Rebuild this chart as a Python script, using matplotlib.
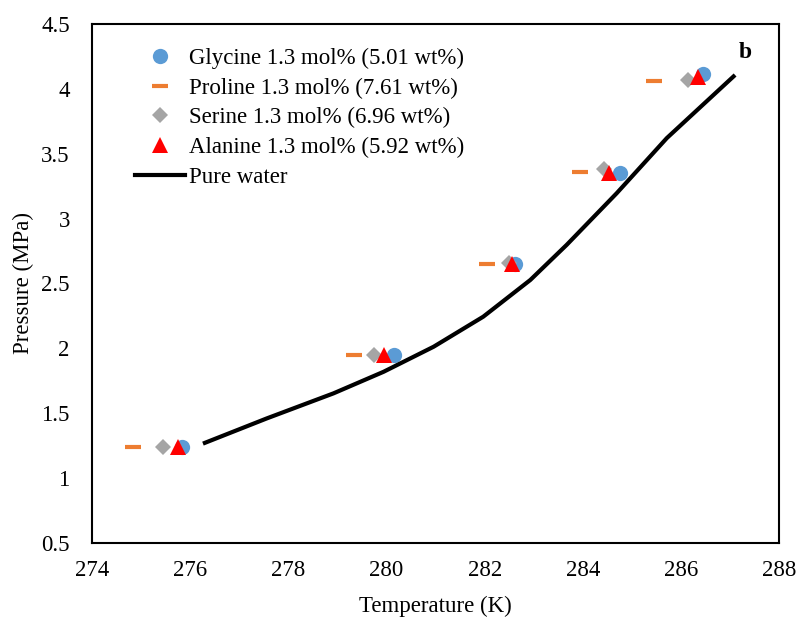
import matplotlib
matplotlib.use("Agg")
import matplotlib.pyplot as plt
from matplotlib.ticker import FuncFormatter

plt.rcParams['font.family'] = ['Liberation Serif', 'DejaVu Serif']

# equilibrium points, 1.3 mol% amino acid solutions
gly_T = [275.83, 280.15, 282.62, 284.76, 286.45]
gly_P = [1.24, 1.95, 2.65, 3.35, 4.11]

pro_T = [274.84, 279.34, 282.05, 283.95, 285.45]
pro_P = [1.24, 1.95, 2.65, 3.36, 4.06]

ser_T = [275.45, 279.75, 282.50, 284.43, 286.15]
ser_P = [1.24, 1.95, 2.66, 3.38, 4.07]

ala_T = [275.75, 279.95, 282.56, 284.53, 286.35]
ala_P = [1.24, 1.95, 2.65, 3.35, 4.09]

# pure water reference curve
water_T = [276.30, 277.56, 278.92, 279.94, 280.96, 281.97, 282.93, 283.67,
           284.69, 285.71, 287.07]
water_P = [1.273, 1.461, 1.654, 1.820, 2.013, 2.244, 2.527, 2.797,
           3.195, 3.619, 4.094]

fig = plt.figure(figsize=(8, 6.23), dpi=100)
ax = fig.add_axes([0.115, 0.128, 0.859, 0.834])

ax.plot(gly_T, gly_P, 'o', color='#5B9BD5', markersize=11, markeredgewidth=0,
        label='Glycine 1.3 mol% (5.01 wt%)')
ax.plot(pro_T, pro_P, '_', color='#ED7D31', markersize=11, markeredgewidth=3,
        label='Proline 1.3 mol% (7.61 wt%)')
ax.plot(ser_T, ser_P, 'D', color='#A5A5A5', markersize=8, markeredgewidth=0,
        label='Serine 1.3 mol% (6.96 wt%)')
ax.plot(ala_T, ala_P, '^', color='#FF0000', markersize=11, markeredgewidth=0,
        label='Alanine 1.3 mol% (5.92 wt%)')
ax.plot(water_T, water_P, '-', color='black', linewidth=3, label='Pure water')

ax.text(287.3, 4.28, 'b', fontsize=17, fontweight='bold', ha='center', va='center')

ax.set_xlim(274, 288)
ax.set_ylim(0.5, 4.5)
ax.set_xticks(range(274, 289, 2))
ax.set_yticks([0.5, 1, 1.5, 2, 2.5, 3, 3.5, 4, 4.5])
ax.yaxis.set_major_formatter(FuncFormatter(lambda v, p: '%g' % v))
ax.tick_params(length=0, labelsize=16.5)
ax.tick_params(axis='y', pad=16)
ax.tick_params(axis='x', pad=12)
for s in ax.spines.values():
    s.set_linewidth(1.5)

ax.set_xlabel('Temperature (K)', fontsize=16.5, labelpad=11)
ax.set_ylabel('Pressure (MPa)', fontsize=16.5, labelpad=5)

ax.legend(loc='upper left', bbox_to_anchor=(0.039, 0.985), frameon=False, fontsize=16.5,
          handlelength=2.2, handletextpad=0.15, labelspacing=0.38, borderpad=0.2)

fig.savefig('out.png', dpi=100)
